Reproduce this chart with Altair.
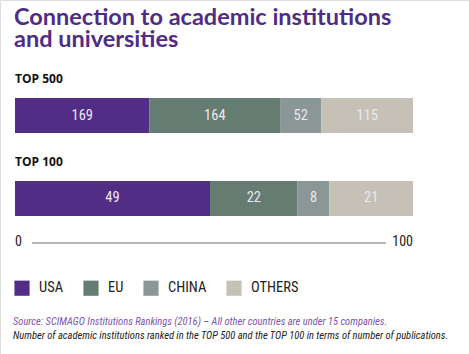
import altair as alt
import pandas as pd

regions = ["USA", "EU", "CHINA", "OTHERS"]
colors = ["#522d86", "#647c71", "#8b9796", "#c5c1b6"]
groups = ["TOP 500", "TOP 100"]
top500 = [169, 164, 52, 115]
top100 = [49, 22, 8, 21]
axis_ticks = [0, 100]

title_text = "Connection to academic institutions\nand universities"
source_line = "Source: SCIMAGO Institutions Rankings (2016) \u2013 All other countries are under 15 companies."
note_line = "Number of academic institutions ranked in the TOP 500 and the TOP 100 in terms of number of publications."

rows = []
for g, vals in zip(groups, [top500, top100]):
    for i, (r, v) in enumerate(zip(regions, vals)):
        rows.append({"group": g, "region": r, "value": v, "order": i})
df = pd.DataFrame(rows)

COND = "Roboto Condensed"

xscale = alt.Scale(domain=[0, 1], range=[15, 413])
yscale = alt.Scale(domain=groups, range=[98, 216], paddingInner=0.578, paddingOuter=0)

base = alt.Chart(df).transform_joinaggregate(
    total="sum(value)", groupby=["group"]
).transform_calculate(
    pct="datum.value / datum.total"
).transform_stack(
    stack="pct", groupby=["group"], as_=["x0", "x1"], sort=[alt.SortField("order")]
).transform_calculate(
    mid="(datum.x0 + datum.x1) / 2"
)

bars = base.mark_bar(stroke=None).encode(
    x=alt.X("x0:Q", scale=xscale, axis=None),
    x2="x1:Q",
    y=alt.Y("group:N", scale=yscale, axis=None),
    color=alt.Color(
        "region:N",
        scale=alt.Scale(domain=regions, range=colors),
        legend=alt.Legend(
            title=None, orient="none", legendX=14, legendY=280, direction="horizontal",
            symbolType="square", symbolSize=230, symbolStrokeWidth=0, symbolOpacity=1,
            labelFont=COND, labelFontSize=14.5, labelColor="#222222", labelOffset=9,
            columnPadding=19, padding=0,
        ),
    ),
)

labels = base.mark_text(font=COND, fontSize=14.5, color="#ece8f0").encode(
    x=alt.X("mid:Q", scale=xscale),
    y=alt.Y("group:N", scale=yscale),
    text="value:Q",
)

glabels = alt.Chart(pd.DataFrame({"group": groups})).mark_text(
    font="Open Sans", fontWeight="bold", fontSize=12, color="#111111", align="left", yOffset=-36.5
).encode(
    x=alt.value(15),
    y=alt.Y("group:N", scale=yscale),
    text="group:N",
)

axis_rule = alt.Chart(pd.DataFrame({"a": [0]})).mark_rule(color="#b5b5b5", strokeWidth=2).encode(
    x=alt.value(32), x2=alt.value(386), y=alt.value(243)
)
tick0 = alt.Chart(pd.DataFrame({"t": [axis_ticks[0]]})).mark_text(
    font=COND, fontSize=14, color="#222222", align="left", baseline="middle"
).encode(x=alt.value(15), y=alt.value(242), text="t:Q")
tick100 = alt.Chart(pd.DataFrame({"t": [axis_ticks[1]]})).mark_text(
    font=COND, fontSize=14, color="#222222", align="right", baseline="middle"
).encode(x=alt.value(413), y=alt.value(242), text="t:Q")

title = alt.Chart(pd.DataFrame({"t": [title_text]})).mark_text(
    font="Lato", fontWeight="bold", fontSize=23.5, color="#4f2d84", align="left",
    baseline="alphabetic", lineBreak="\n", lineHeight=22
).encode(x=alt.value(14), y=alt.value(25), text="t:N")

src = alt.Chart(pd.DataFrame({"t": [source_line]})).mark_text(
    font=COND, fontStyle="italic", fontSize=10.5, color="#7b55ad", align="left", baseline="middle"
).encode(x=alt.value(13), y=alt.value(322), text="t:N")
note = alt.Chart(pd.DataFrame({"t": [note_line]})).mark_text(
    font=COND, fontStyle="italic", fontSize=10.5, color="#222222", align="left", baseline="middle"
).encode(x=alt.value(13), y=alt.value(336), text="t:N")

chart = alt.layer(bars, labels, glabels, axis_rule, tick0, tick100, title, src, note).properties(
    width=469, height=354, padding=0, autosize=alt.AutoSizeParams(type="none")
).configure_view(stroke=None).configure(background="white")

chart.save("out.html", embed_options={"renderer": "svg", "actions": False})
